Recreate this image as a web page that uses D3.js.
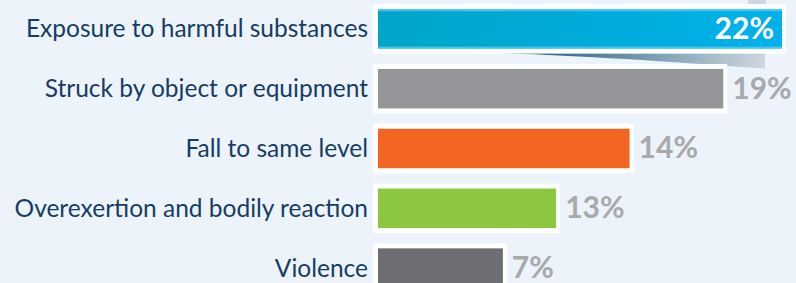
<!DOCTYPE html>
<html>
<head>
<meta charset="utf-8">
<script src="https://cdn.jsdelivr.net/npm/d3@7"></script>
<style>
  html, body { margin: 0; padding: 0; background: #edf3fa; }
  svg { display: block; }
</style>
</head>
<body>
<script>
var width = 796,
    height = 283;

var categories = ['Exposure to harmful substances', 'Struck by object or equipment',
                  'Fall to same level', 'Overexertion and bodily reaction', 'Violence'];
var labels = ['22%', '19%', '14%', '13%', '7%'];
// bar lengths as drawn in the picture (the 13% bar is drawn shorter than its label)
var barValues = [22, 18.8, 13.7, 9.7, 6.8];
var colors = ['#00abd9', '#939598', '#f26522', '#8dc63f', '#6d6e71'];

var svg = d3.select('body').append('svg')
    .attr('width', width)
    .attr('height', height);

var defs = svg.append('defs');

var blue = defs.append('linearGradient').attr('id', 'blue')
    .attr('x1', 0).attr('x2', 1).attr('y1', 0).attr('y2', 0);
blue.append('stop').attr('offset', 0).attr('stop-color', '#00a6c9');
blue.append('stop').attr('offset', 1).attr('stop-color', '#00b1ea');

var fold = defs.append('linearGradient').attr('id', 'fold')
    .attr('x1', 0).attr('x2', 1).attr('y1', 0).attr('y2', 0);
fold.append('stop').attr('offset', 0).attr('stop-color', '#0b4a68');
fold.append('stop').attr('offset', 0.45).attr('stop-color', '#5f8ba3');
fold.append('stop').attr('offset', 1).attr('stop-color', '#cdd7e0');

var x = d3.scaleLinear()
    .domain([0, 22])
    .range([378, 782]);

var y = d3.scaleBand()
    .domain(categories)
    .range([-1, 298])
    .paddingInner(0.34)
    .paddingOuter(0.17);

// the curled shadow under the first bar
var y1 = y(categories[0]) + y.bandwidth();
svg.append('path')
    .attr('d', 'M490,' + (y1 + 4) + ' L765,' + (y1 + 4) + ' L765,' + (y1 + 20) +
               ' C660,' + (y1 + 12) + ' 560,' + (y1 + 6) + ' 490,' + (y1 + 4) + ' Z')
    .attr('fill', 'url(#fold)');
svg.append('path')
    .attr('d', 'M748,0 L766,0 L766,4 L748,4 Z')
    .attr('fill', '#cfd8e0');

var rows = svg.selectAll('g.row')
    .data(categories)
  .enter().append('g')
    .attr('class', 'row');

// white frames
rows.append('rect')
    .attr('x', x(0) - 5)
    .attr('y', function(d) { return y(d) - 5; })
    .attr('width', function(d, i) { return x(barValues[i]) - x(0) + 9; })
    .attr('height', y.bandwidth() + 10)
    .attr('fill', '#ffffff');

rows.append('rect')
    .attr('x', x(0))
    .attr('y', function(d) { return y(d); })
    .attr('width', function(d, i) { return x(barValues[i]) - x(0); })
    .attr('height', y.bandwidth())
    .attr('fill', function(d, i) { return i === 0 ? 'url(#blue)' : colors[i]; });

// light edges on the blue bar
svg.append('rect')
    .attr('x', x(0)).attr('y', y(categories[0]))
    .attr('width', x(barValues[0]) - x(0)).attr('height', 2)
    .attr('fill', '#6fd0f0').attr('opacity', 0.7);
svg.append('rect')
    .attr('x', x(0)).attr('y', y(categories[0]) + y.bandwidth() - 2)
    .attr('width', x(barValues[0]) - x(0)).attr('height', 2)
    .attr('fill', '#6fd0f0').attr('opacity', 0.7);

rows.append('text')
    .attr('x', function(d, i) { return i === 0 ? x(barValues[i]) - 8 : x(barValues[i]) + 9; })
    .attr('y', function(d) { return y(d) + y.bandwidth() / 2; })
    .attr('dy', '0.33em')
    .attr('text-anchor', function(d, i) { return i === 0 ? 'end' : 'start'; })
    .style('font-family', 'Lato, sans-serif')
    .style('font-weight', 'bold')
    .style('font-size', '30px')
    .attr('fill', function(d, i) { return i === 0 ? '#ffffff' : '#a7a9ac'; })
    .text(function(d, i) { return labels[i]; });

var axis = svg.append('g')
    .attr('transform', 'translate(' + x(0) + ',0)')
    .call(d3.axisLeft(y).tickSize(0).tickPadding(10));
axis.select('.domain').remove();
axis.selectAll('text')
    .attr('dy', '0.35em')
    .style('font-family', 'Lato, sans-serif')
    .style('font-size', '24.5px')
    .attr('fill', '#153d66');
</script>
</body>
</html>
